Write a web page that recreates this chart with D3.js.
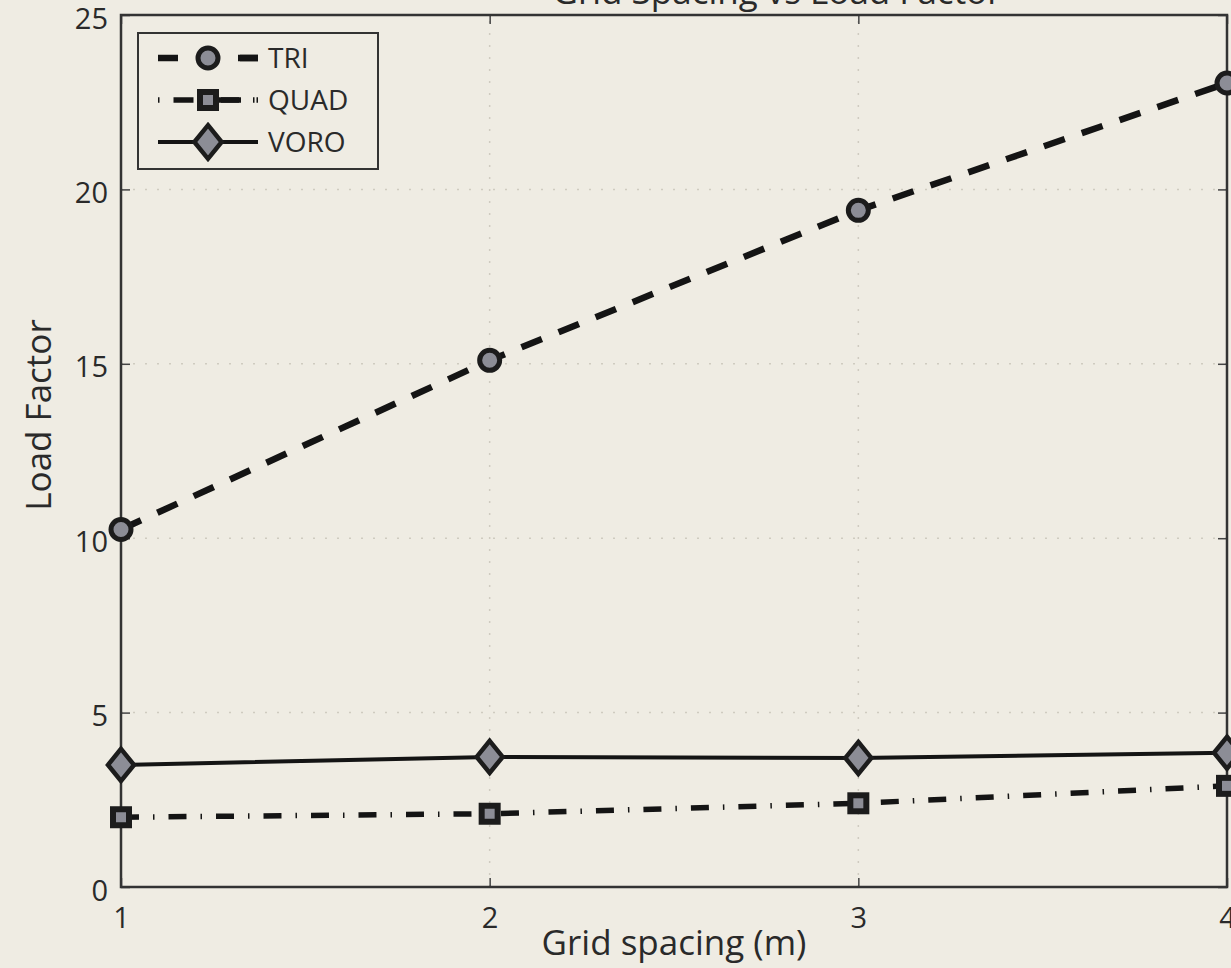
<!DOCTYPE html>
<html>
<head>
<meta charset="utf-8">
<script src="https://cdn.jsdelivr.net/npm/d3@7"></script>
<style>
  body { margin: 0; background: #efece3; }
  svg text { font-family: "Open Sans", "Noto Sans", sans-serif; fill: #2a2a2a; }
</style>
</head>
<body>
<svg id="chart" width="1231" height="968"></svg>
<script>
// ---- data ----
const spacing = [1, 2, 3, 4];
const tri = [10.25, 15.1, 19.4, 23.05];
const quad = [2.0, 2.1, 2.4, 2.9];
const voro = [3.5, 3.73, 3.7, 3.85];
const seriesNames = ["TRI", "QUAD", "VORO"];
const yTicks = [0, 5, 10, 15, 20, 25];
const xTicks = [1, 2, 3, 4];

// ---- layout ----
const W = 1231, H = 968;
const m = { left: 121, right: 4, top: 15, bottom: 81 };
const svg = d3.select("#chart");

const x = d3.scaleLinear().domain([1, 4]).range([m.left, W - m.right]);
const y = d3.scaleLinear().domain([0, 25]).range([H - m.bottom, m.top]);

// grid
const grid = svg.append("g").attr("stroke", "#cfcbc0").attr("stroke-width", 1.5).attr("stroke-dasharray", "2,10");
grid.selectAll(".gx").data(xTicks.slice(1, -1)).join("line")
  .attr("x1", d => x(d)).attr("x2", d => x(d)).attr("y1", y(0)).attr("y2", y(25));
grid.selectAll(".gy").data(yTicks.slice(1, -1)).join("line")
  .attr("x1", x(1)).attr("x2", x(4)).attr("y1", d => y(d)).attr("y2", d => y(d));

// axes (ticks inward, matlab-ish)
const tickLen = 9;
const xAxis = svg.append("g").attr("transform", `translate(0,${y(0)})`)
  .call(d3.axisBottom(x).tickValues(xTicks).tickFormat(d3.format("d")).tickSize(-tickLen).tickPadding(20));
const xAxisTop = svg.append("g").attr("transform", `translate(0,${y(25)})`)
  .call(d3.axisTop(x).tickValues(xTicks).tickSize(-tickLen).tickFormat(""));
const yAxis = svg.append("g").attr("transform", `translate(${x(1)},0)`)
  .call(d3.axisLeft(y).tickValues(yTicks).tickSize(-tickLen).tickPadding(13));
const yAxisR = svg.append("g").attr("transform", `translate(${x(4)},0)`)
  .call(d3.axisRight(y).tickValues(yTicks).tickSize(-tickLen).tickFormat(""));

[xAxis, xAxisTop, yAxis, yAxisR].forEach(a => {
  a.select(".domain").remove();
  a.selectAll(".tick line").attr("stroke", "#444").attr("stroke-width", 1.5);
  a.selectAll("text").attr("font-size", 29).attr("fill", "#2a2a2a");
});
yAxis.selectAll("text").attr("dy", "0.45em");

// frame
svg.append("rect")
  .attr("x", x(1)).attr("y", y(25))
  .attr("width", x(4) - x(1)).attr("height", y(0) - y(25))
  .attr("fill", "none").attr("stroke", "#333").attr("stroke-width", 2.5);

// labels
svg.append("text").attr("x", 674).attr("y", 955)
  .attr("text-anchor", "middle").attr("font-size", 35).text("Grid spacing (m)");
svg.append("text").attr("transform", `translate(51,415) rotate(-90)`)
  .attr("text-anchor", "middle").attr("font-size", 35).text("Load Factor");
svg.append("text").attr("x", 777).attr("y", 4)
  .attr("text-anchor", "middle").attr("font-size", 35).text("Grid Spacing vs Load Factor");

// ---- series ----
const styles = {
  TRI:  { dash: "22,18", width: 6.5, marker: "circle" },
  QUAD: { dash: "18,14,1.5,14", width: 5.5, marker: "square" },
  VORO: { dash: null, width: 4, marker: "diamond" }
};
const seriesData = { TRI: tri, QUAD: quad, VORO: voro };

const line = d3.line().x((d, i) => x(spacing[i])).y(d => y(d));

function drawMarker(g, type, cx, cy, scale = 1) {
  if (type === "circle") {
    g.append("circle").attr("cx", cx).attr("cy", cy).attr("r", 10 * scale)
      .attr("fill", "#8c8d96").attr("stroke", "#1c1c1c").attr("stroke-width", 5);
  } else if (type === "square") {
    g.append("rect").attr("x", cx - 8 * scale).attr("y", cy - 8 * scale)
      .attr("width", 16 * scale).attr("height", 16 * scale)
      .attr("fill", "#8c8d96").attr("stroke", "#1c1c1c").attr("stroke-width", 6);
  } else {
    const hw = 13 * scale, hh = 16 * scale;
    g.append("path").attr("d", `M${cx},${cy - hh}L${cx + hw},${cy}L${cx},${cy + hh}L${cx - hw},${cy}Z`)
      .attr("fill", "#8c8d96").attr("stroke", "#1c1c1c").attr("stroke-width", 4.5).attr("stroke-linejoin", "miter");
  }
}

const plot = svg.append("g");
seriesNames.forEach(name => {
  const s = styles[name];
  plot.append("path").datum(seriesData[name])
    .attr("d", line).attr("fill", "none")
    .attr("stroke", "#141414").attr("stroke-width", s.width)
    .attr("stroke-dasharray", s.dash);
});
seriesNames.forEach(name => {
  const g = plot.append("g");
  seriesData[name].forEach((v, i) => drawMarker(g, styles[name].marker, x(spacing[i]), y(v)));
});

// ---- legend ----
const lg = svg.append("g").attr("transform", "translate(138,33)");
lg.append("rect").attr("width", 240).attr("height", 136)
  .attr("fill", "#efece3").attr("stroke", "#333").attr("stroke-width", 2);
seriesNames.forEach((name, i) => {
  const s = styles[name];
  const cy = 25 + i * 42;
  lg.append("line").attr("x1", 20).attr("x2", 120).attr("y1", cy).attr("y2", cy)
    .attr("stroke", "#141414").attr("stroke-width", s.width)
    .attr("stroke-dasharray", name === "TRI" ? "20,62" : name === "QUAD" ? "1.5,14,20,12" : null);
  if (name === "TRI") {
    lg.append("line").attr("x1", 100).attr("x2", 120).attr("y1", cy).attr("y2", cy)
      .attr("stroke", "#141414").attr("stroke-width", s.width);
  }
  if (name === "QUAD") {
    lg.append("line").attr("x1", 81).attr("x2", 101).attr("y1", cy).attr("y2", cy)
      .attr("stroke", "#141414").attr("stroke-width", s.width);
    lg.append("line").attr("x1", 118.5).attr("x2", 120).attr("y1", cy).attr("y2", cy)
      .attr("stroke", "#141414").attr("stroke-width", s.width);
  }
  drawMarker(lg, s.marker, 70, cy, name === "VORO" ? 1.05 : 1);
  lg.append("text").attr("x", 130).attr("y", cy).attr("dy", "0.36em")
    .attr("font-size", 28).text(name);
});
</script>
</body>
</html>
